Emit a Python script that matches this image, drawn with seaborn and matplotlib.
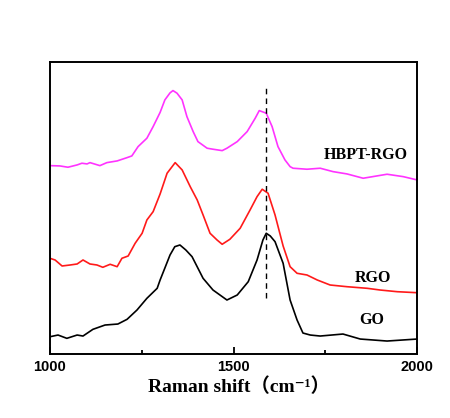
import matplotlib
matplotlib.use("Agg")
import matplotlib.pyplot as plt
import seaborn as sns
import pandas as pd
from matplotlib.ticker import FixedLocator

# ---- data (arbitrary intensity units) ----
go_x = [1000, 1022, 1046, 1074, 1090, 1117, 1150, 1185, 1210, 1237, 1264, 1292, 1300, 1313,
        1327, 1340, 1354, 1370, 1387, 1417, 1444, 1482, 1510, 1540, 1564, 1580, 1589, 1600,
        1613, 1635, 1654, 1673, 1689, 1709, 1736, 1798, 1845, 1918, 2000]
go_y = [17.3, 19, 15.7, 19, 18, 24.7, 29, 30, 34.7, 44, 55.7, 65.7, 74, 86,
        99, 107.3, 109, 104, 97.3, 75.7, 64, 54, 59, 72.3, 94, 114, 120.7, 118,
        112.3, 90.7, 54, 34, 21, 19, 18, 20, 15, 13, 15]

rgo_x = [1000, 1014, 1033, 1055, 1074, 1090, 1109, 1128, 1144, 1164, 1183, 1196, 1213, 1232,
         1251, 1264, 1281, 1300, 1319, 1341, 1360, 1382, 1401, 1417, 1436, 1455, 1469, 1490,
         1518, 1545, 1564, 1578, 1594, 1613, 1635, 1654, 1673, 1700, 1728, 1763, 1809, 1864,
         1899, 1946, 2000]
rgo_y = [95.7, 94, 88, 89, 90, 94, 90, 89, 86.7, 89.7, 87.3, 95.7, 98, 110.7,
         120.7, 134, 142.3, 160, 180.7, 191.3, 184, 167.3, 154, 139, 120.7, 114, 109.7, 114.7,
         125.7, 144, 157.3, 164.7, 160.7, 139, 108, 87.3, 80.7, 79, 74, 69, 67.3, 65.7,
         64, 62.3, 61.3]

hb_x = [1000, 1027, 1049, 1074, 1087, 1101, 1109, 1136, 1155, 1183, 1210, 1223, 1240, 1264,
        1281, 1300, 1313, 1327, 1335, 1346, 1360, 1373, 1390, 1403, 1428, 1444, 1469, 1482,
        1510, 1537, 1559, 1570, 1589, 1605, 1621, 1640, 1654, 1662, 1700, 1736, 1771, 1809,
        1853, 1918, 1962, 2000]
hb_y = [188.3, 188, 186.7, 189, 190.7, 190, 191.3, 188.3, 191.3, 193, 196.3, 198, 207.3, 215.7,
        227.3, 241.5, 254, 261, 263.3, 260.7, 254, 237.3, 222.3, 212.3, 205.7, 204.7, 203.3, 205.7,
        212.3, 222.3, 235.7, 243.3, 240.7, 227.3, 207.3, 194, 187.3, 185.7, 184.7, 185.7, 182.3, 180,
        175.7, 179.7, 177.3, 174]

labels = ["GO", "RGO", "HBPT-RGO"]
colors = ["#000000", "#ff1a1a", "#ff33ff"]
tick_vals = [1000, 1500, 2000]
minor_vals = [1250, 1750]
peak_g = 1588

rows = []
for name, xs, ys in [("GO", go_x, go_y), ("RGO", rgo_x, rgo_y), ("HBPT-RGO", hb_x, hb_y)]:
    for xv, yv in zip(xs, ys):
        rows.append({"shift": xv, "intensity": yv, "sample": name})
df = pd.DataFrame(rows)

sns.set_style("white")
plt.rcParams["font.family"] = ["Liberation Sans", "DejaVu Sans"]
plt.rcParams["text.color"] = "black"
plt.rcParams["axes.labelcolor"] = "black"
plt.rcParams["xtick.color"] = "black"

fig = plt.figure(figsize=(4.5, 4.18), dpi=100)
ax = fig.add_axes([0.111, 0.153, 0.816, 0.699])

sns.lineplot(data=df, x="shift", y="intensity", hue="sample", hue_order=labels,
             palette=colors, ax=ax, legend=False, linewidth=1.2, sort=True,
             estimator=None)

ax.vlines(peak_g, 56, 267, colors="black", linestyles=(0, (4, 3)), linewidth=1.0)

ax.set_xlim(1000, 2000)
ax.set_ylim(0, 292)
ax.set_yticks([])
ax.xaxis.set_major_locator(FixedLocator(tick_vals))
ax.xaxis.set_minor_locator(FixedLocator(minor_vals))
ax.set_xticklabels([str(v) for v in tick_vals], fontsize=10.5, fontweight="bold", color="black")
ax.tick_params(axis="x", which="major", direction="in", length=5, width=1.3,
               bottom=True, top=False, pad=4, colors="black")
ax.tick_params(axis="x", which="minor", direction="in", length=3, width=1.3,
               bottom=True, top=False, colors="black")
for s in ax.spines.values():
    s.set_linewidth(1.4)
    s.set_color("black")

ax.set_xlabel("Raman shift（cm⁻¹）", fontsize=14, fontweight="bold", color="black",
              family=["Liberation Serif", "DejaVu Serif", "Noto Sans CJK SC"])
ax.xaxis.set_label_coords(0.515, -0.08, transform=ax.transAxes)
ax.xaxis.label.set_va("top")
ax.set_ylabel("")

tfont = dict(fontsize=11.5, fontweight="bold", family=["Liberation Serif"], ha="center",
             va="center", color="black")
ax.text(1860, 199, "HBPT-RGO", **tfont)
ax.text(1880, 76, "RGO", **tfont)
ax.text(1875, 34, "GO", **tfont)

fig.savefig("out.png", dpi=100)
